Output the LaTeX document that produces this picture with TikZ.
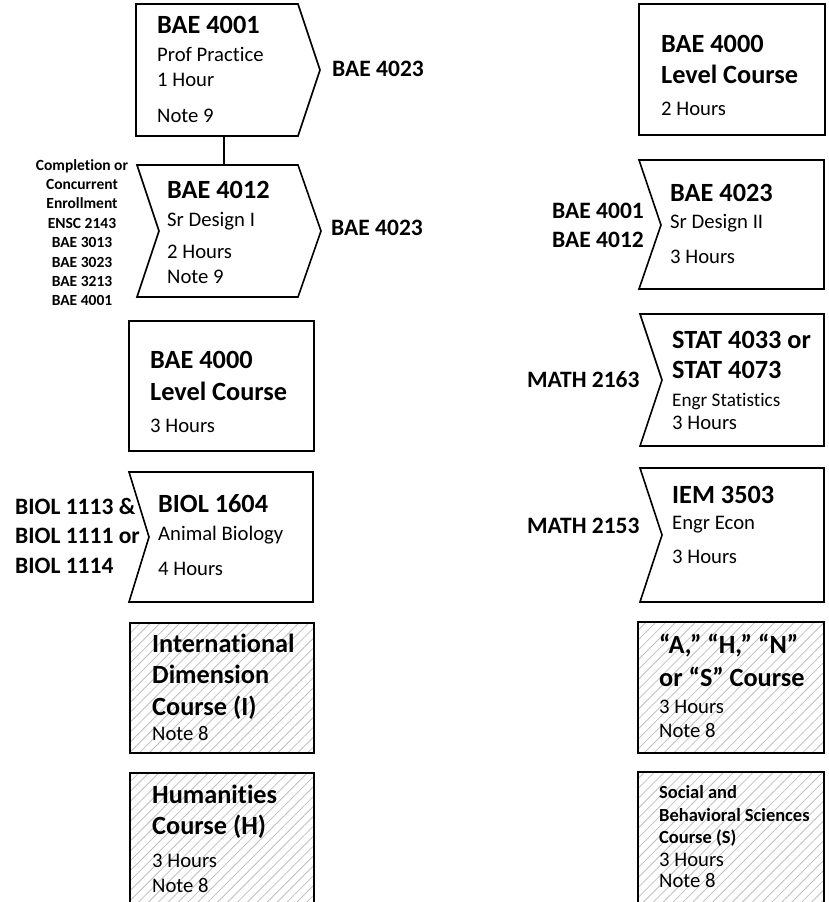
\documentclass[tikz,border=0pt]{standalone}
\usepackage{fontspec}
\setmainfont{Carlito}[Ligatures=NoCommon]
\usetikzlibrary{patterns.meta}
\begin{document}
\begin{tikzpicture}[x=1pt,y=-1pt,line join=miter,
	crs/.style={font=\bfseries\fontsize{26.3}{31}\selectfont,anchor=base west,inner sep=0pt},
	txt/.style={font=\fontsize{20.7}{24}\selectfont,anchor=base west,inner sep=0pt},
	pre/.style={font=\bfseries\fontsize{23.5}{29}\selectfont,anchor=base west,inner sep=0pt},
	tiny/.style={font=\bfseries\fontsize{15.5}{19}\selectfont,anchor=base,inner sep=0pt},
	soc/.style={font=\bfseries\fontsize{18.5}{22}\selectfont,anchor=base west,inner sep=0pt},
	box/.style={line width=1.6pt},
	hatch/.style={box,pattern={Lines[angle=45,distance=7pt,line width=0.8pt]},pattern color=gray!50}]
	\clip (0,0) rectangle (829,902);
	% left column
	\draw[box] (136,4)--(298,4)--(320,70)--(298,136)--(136,136)--cycle;
	\node[crs] (c4001) at (157,33) {BAE 4001};
	\node[txt] (c4001a) at (157,61) {Prof Practice};
	\node[txt] (c4001b) at (157,86) {1 Hour};
	\node[txt] (c4001c) at (157,122) {Note 9};
	\node[pre] (p4001) at (332,76) {BAE 4023};
	\coordinate (j1) at (224,136);
	\coordinate (j2) at (224,165);
	\draw[box] (j1)--(j2);
	\draw[box] (137,165)--(298,165)--(321,231)--(298,297)--(137,297)--(159,231)--cycle;
	\node[crs] (c4012) at (167,198) {BAE 4012};
	\node[txt] (c4012a) at (167,226) {Sr Design I};
	\node[txt] (c4012b) at (167,258) {2 Hours};
	\node[txt] (c4012c) at (167,283) {Note 9};
	\node[pre] (p4012) at (331,235) {BAE 4023};
	\foreach \t [count=\i] in {Completion or,Concurrent,Enrollment,ENSC 2143,BAE 3013,BAE 3023,BAE 3213,BAE 4001}
		\node[tiny] (cc\i) at (82,{150.6+19.4*\i}) {\t};
	\draw[box] (129,321) rectangle (314,451);
	\node[crs] (lvl3) at (150,368) {BAE 4000};
	\node[crs] (lvl3a) at (150,400) {Level Course};
	\node[txt] (lvl3b) at (150,432) {3 Hours};
	\draw[box] (129,472)--(313,472)--(313,602)--(129,602)--(149,537)--cycle;
	\node[crs] (bio) at (158,512) {BIOL 1604};
	\node[txt] (bioa) at (158,540) {Animal Biology};
	\node[txt] (biob) at (158,575) {4 Hours};
	\node[pre] (pbio1) at (15,514) {BIOL 1113 \&};
	\node[pre] (pbio2) at (15,543) {BIOL 1111 or};
	\node[pre] (pbio3) at (15,573) {BIOL 1114};
	\draw[hatch] (130,623) rectangle (314,753);
	\node[crs] (intl) at (152,652) {International};
	\node[crs] (intla) at (152,683) {Dimension};
	\node[crs] (intlb) at (152,715) {Course (I)};
	\node[txt] (intlc) at (152,740) {Note 8};
	\draw[hatch] (130,773) rectangle (314,915);
	\node[crs] (hum) at (152,803) {Humanities};
	\node[crs] (huma) at (152,834) {Course (H)};
	\node[txt] (humb) at (152,867) {3 Hours};
	\node[txt] (humc) at (152,892) {Note 8};
	% right column
	\draw[box] (639,4) rectangle (825,135);
	\node[crs] (lvl2) at (661,52) {BAE 4000};
	\node[crs] (lvl2a) at (661,83) {Level Course};
	\node[txt] (lvl2b) at (661,115) {2 Hours};
	\draw[box] (639,160)--(824,160)--(824,289)--(639,289)--(661,225)--cycle;
	\node[crs] (c4023) at (670,201) {BAE 4023};
	\node[txt] (c4023a) at (670,228) {Sr Design II};
	\node[txt] (c4023b) at (670,263) {3 Hours};
	\node[pre,anchor=base east] (p4023a) at (644,218) {BAE 4001};
	\node[pre,anchor=base east] (p4023b) at (644,247) {BAE 4012};
	\draw[box] (640,314)--(824,314)--(824,446)--(640,446)--(662,380)--cycle;
	\node[crs] (stat) at (672,348) {STAT 4033 or};
	\node[crs] (stata) at (672,378) {STAT 4073};
	\node[txt,font=\fontsize{19.2}{23}\selectfont] (statb) at (672,406) {Engr Statistics};
	\node[txt] (statc) at (672,429) {3 Hours};
	\node[pre] (pstat) at (527,387) {MATH 2163};
	\draw[box] (640,468)--(824,468)--(824,602)--(640,602)--(662,535)--cycle;
	\node[crs] (iem) at (672,503) {IEM 3503};
	\node[txt] (iema) at (672,529) {Engr Econ};
	\node[txt] (iemb) at (672,563) {3 Hours};
	\node[pre] (piem) at (527,533) {MATH 2153};
	\draw[hatch] (638,622) rectangle (824,753);
	\node[crs] (ahns) at (659,653) {“A,” “H,” “N”};
	\node[crs] (ahnsa) at (659,686) {or “S” Course};
	\node[txt] (ahnsb) at (659,713) {3 Hours};
	\node[txt] (ahnsc) at (659,737) {Note 8};
	\draw[hatch] (638,772) rectangle (824,915);
	\node[soc] (sbs) at (659,798) {Social and};
	\node[soc] (sbsa) at (659,821) {Behavioral Sciences};
	\node[soc] (sbsb) at (659,843) {Course (S)};
	\node[txt] (sbsc) at (659,866) {3 Hours};
	\node[txt] (sbsd) at (659,887) {Note 8};
\end{tikzpicture}
\end{document}
